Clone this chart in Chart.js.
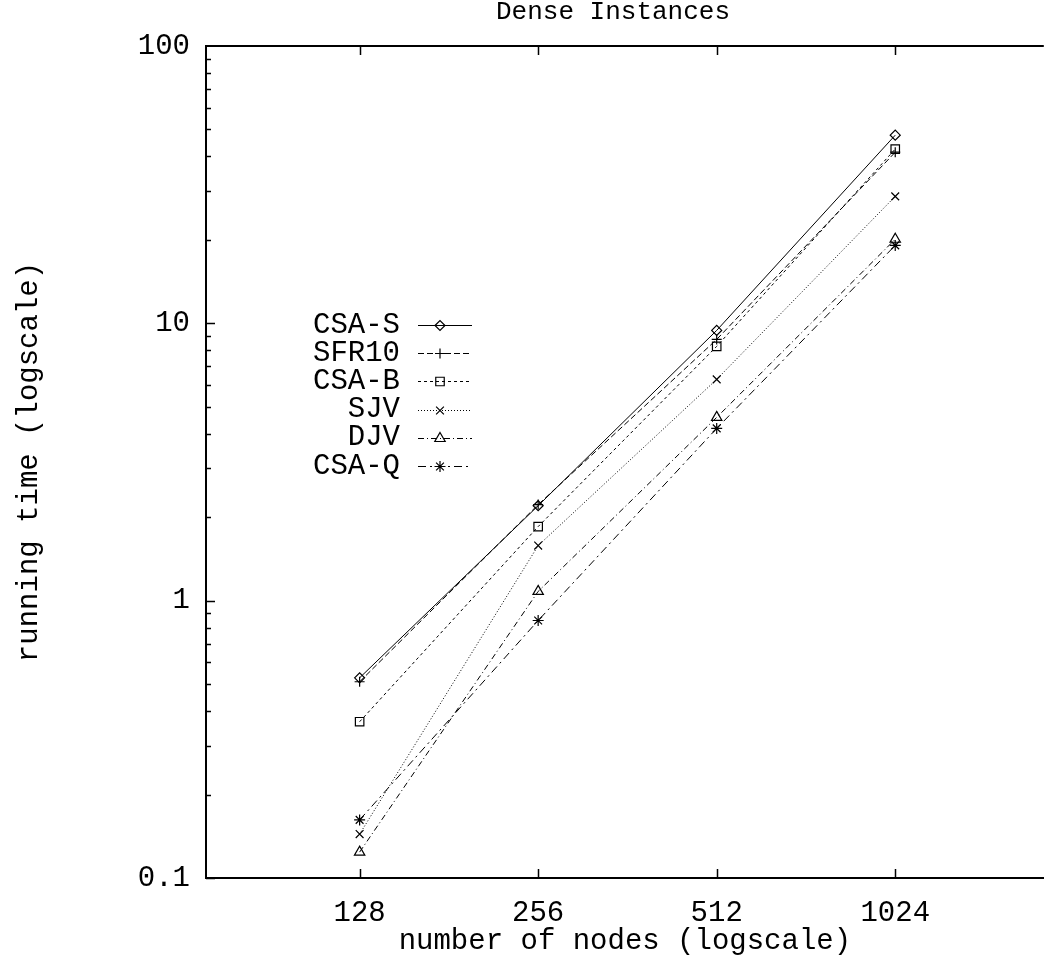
<!DOCTYPE html>
<html>
<head>
<meta charset="utf-8">
<script src="https://cdn.jsdelivr.net/npm/chart.js@4.4.1/dist/chart.umd.min.js"></script>
<style>
  html, body { margin: 0; padding: 0; background: #fff; overflow: hidden; }
  #wrap { width: 1051px; height: 955px; }
</style>
</head>
<body>
<div id="wrap"><canvas id="chart"></canvas></div>
<script>
const chartTitle = 'Dense Instances';
const nodes = [128, 256, 512, 1024];
const csaS = [0.527, 2.20, 9.43, 47.7];
const sfr10 = [0.510, 2.22, 8.75, 41.4];
const csaB = [0.366, 1.85, 8.26, 42.5];
const sjv = [0.144, 1.58, 6.28, 28.7];
const djv = [0.124, 1.08, 4.58, 20.1];
const csaQ = [0.162, 0.848, 4.18, 19.1];
const xTicks = [128, 256, 512, 1024];
const yTicks = [0.1, 1, 10, 100];
const yTickLabels = ['0.1', '1', '10', '100'];

const mono = '"Liberation Mono", "Courier New", monospace';

function pts(vals) {
  return nodes.map((n, i) => ({ x: n, y: vals[i] }));
}

function series(label, vals, style, radius, dash) {
  return {
    label: label,
    data: pts(vals),
    borderColor: '#000',
    borderWidth: 1,
    borderDash: dash,
    pointStyle: style,
    pointRadius: radius,
    pointBorderWidth: 1.2,
    pointBorderColor: '#000',
    pointBackgroundColor: 'rgba(0,0,0,0)',
    tension: 0
  };
}

// inward ticks, top border, title and legend, gnuplot style
const frame = {
  id: 'frame',
  afterDraw(chart) {
    const ctx = chart.ctx;
    const a = chart.chartArea;
    const xs = chart.scales.x;
    const ys = chart.scales.y;
    ctx.save();
    ctx.strokeStyle = '#000';
    ctx.lineWidth = 2;
    ctx.beginPath();
    ctx.moveTo(a.left, a.top);
    ctx.lineTo(a.right, a.top);
    ctx.stroke();

    ctx.lineWidth = 1.5;
    ctx.beginPath();
    xTicks.forEach(v => {
      const px = Math.round(xs.getPixelForValue(v)) + 0.5;
      ctx.moveTo(px, a.bottom); ctx.lineTo(px, a.bottom - 9);
      ctx.moveTo(px, a.top); ctx.lineTo(px, a.top + 9);
    });
    [0.1, 1, 10].forEach(d => {
      for (let m = 1; m < 10; m++) {
        const py = Math.round(ys.getPixelForValue(d * m)) + 0.5;
        ctx.moveTo(a.left, py);
        ctx.lineTo(a.left + (m === 1 ? 9 : 5), py);
      }
    });
    ctx.stroke();

    ctx.fillStyle = '#000';
    ctx.font = '26px ' + mono;
    ctx.textAlign = 'center';
    ctx.textBaseline = 'middle';
    ctx.fillText(chartTitle, 613, 12);

    // legend
    ctx.font = '29px ' + mono;
    ctx.textAlign = 'right';
    chart.data.datasets.forEach((ds, i) => {
      const y = 325 + i * 28.2;
      ctx.fillStyle = '#000';
      ctx.fillText(ds.label, 400, y);
      ctx.save();
      ctx.lineWidth = 1;
      ctx.setLineDash(ds.borderDash || []);
      ctx.beginPath();
      ctx.moveTo(418, Math.round(y) + 0.5);
      ctx.lineTo(472, Math.round(y) + 0.5);
      ctx.stroke();
      ctx.restore();
      ctx.save();
      ctx.strokeStyle = '#000';
      ctx.fillStyle = 'rgba(0,0,0,0)';
      ctx.lineWidth = 1.2;
      Chart.helpers.drawPoint(ctx, { pointStyle: ds.pointStyle, radius: ds.pointRadius, rotation: 0, borderWidth: 1.2 }, 440, Math.round(y) + 0.5);
      ctx.restore();
    });
    ctx.restore();
  }
};

new Chart(document.getElementById('chart'), {
  type: 'line',
  data: {
    datasets: [
      series('CSA-S', csaS, 'rectRot', 5, []),
      series('SFR10', sfr10, 'cross', 5, [6, 3]),
      series('CSA-B', csaB, 'rect', 6, [3, 3]),
      series('SJV', sjv, 'crossRot', 5.5, [1, 2]),
      series('DJV', djv, 'triangle', 6, [6, 3, 1, 3]),
      series('CSA-Q', csaQ, 'star', 5.5, [8, 4, 2, 4])
    ]
  },
  options: {
    responsive: true,
    maintainAspectRatio: false,
    animation: false,
    layout: { padding: { top: 46, right: 0, left: 0, bottom: 0 } },
    plugins: {
      legend: { display: false },
      title: { display: false },
      tooltip: { enabled: false }
    },
    scales: {
      x: {
        type: 'logarithmic',
        min: 70.5,
        max: 1823,
        afterBuildTicks: s => { s.ticks = xTicks.map(v => ({ value: v })); },
        afterFit: s => { s.height = 77; s.paddingLeft = 0; s.paddingRight = 0; },
        ticks: {
          font: { family: mono, size: 29 },
          color: '#000',
          padding: 18,
          maxRotation: 0,
          autoSkip: false,
          callback: v => String(v)
        },
        grid: { display: false, drawTicks: false },
        border: { display: true, color: '#000', width: 2 },
        title: {
          display: true,
          text: 'number of nodes (logscale)',
          font: { family: mono, size: 29, lineHeight: 1 },
          color: '#000',
          padding: { top: 0, bottom: -1 }
        }
      },
      y: {
        type: 'logarithmic',
        min: 0.1,
        max: 100,
        afterBuildTicks: s => { s.ticks = yTicks.map(v => ({ value: v })); },
        afterFit: s => { s.width = 206; s.paddingTop = 0; s.paddingBottom = 0; },
        ticks: {
          font: { family: mono, size: 29 },
          color: '#000',
          padding: 16,
          autoSkip: false,
          callback: (v, i) => yTickLabels[i]
        },
        grid: { display: false, drawTicks: false },
        border: { display: true, color: '#000', width: 2 },
        title: {
          display: true,
          text: 'running time (logscale)',
          font: { family: mono, size: 29, lineHeight: 1.2 },
          color: '#000',
          padding: { top: 12, bottom: 0 }
        }
      }
    }
  },
  plugins: [frame]
});
</script>
</body>
</html>
